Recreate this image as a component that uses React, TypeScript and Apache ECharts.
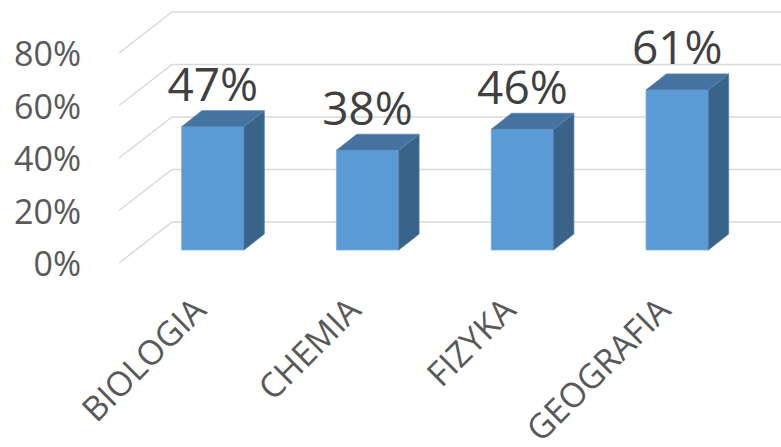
import React, { useEffect, useRef } from "react";
import * as echarts from "echarts";

const categories = ["BIOLOGIA", "CHEMIA", "FIZYKA", "GEOGRAFIA"];
const values = [47, 38, 46, 61];
const yTicks = [0, 20, 40, 60, 80];

const FONT = "Open Sans";

export default function App() {
  const ref = useRef<HTMLDivElement>(null);
  useEffect(() => {
    if (!ref.current) return;
    const chart = echarts.init(ref.current, null, { renderer: "svg" });
    const depthX = 20.3;
    const depthY = -16;
    const option: any = {
      animation: false,
      backgroundColor: "#ffffff",
      grid: { left: 135.4, right: 26.4, top: 40, bottom: 197 },
      xAxis: {
        type: "category",
        data: categories,
        axisLine: { show: false },
        axisTick: { show: false },
        splitLine: { show: false },
        axisLabel: { show: false },
      },
      yAxis: {
        type: "value",
        min: 0,
        max: 80,
        interval: 20,
        axisLine: { show: false },
        axisTick: { show: false },
        splitLine: { show: false },
        axisLabel: { show: false },
      },
      series: [
        {
          type: "custom",
          clip: false,
          z: 1,
          data: yTicks.map((v) => [0, v]),
          renderItem: (params: any, api: any) => {
            const v = api.value(1);
            const p = api.coord([0, v]);
            const backY = p[1] - 28;
            const frontY = p[1] + 13;
            const backX = p[0] - 40.8;
            const frontX = p[0] - 93.8;
            return {
              type: "group",
              children: [
                {
                  type: "polyline",
                  shape: { points: [[frontX, frontY], [backX, backY], [781, backY]] },
                  style: { stroke: "#d9d9d9", lineWidth: 1.5, fill: "none" },
                },
                {
                  type: "text",
                  style: {
                    x: 81,
                    y: frontY,
                    text: v + "%",
                    align: "right",
                    verticalAlign: "middle",
                    fontSize: 34,
                    fontFamily: FONT,
                    fill: "#595959",
                  },
                },
              ],
            };
          },
        },
        {
          type: "custom",
          clip: false,
          z: 2,
          data: values.map((v, i) => [i, v]),
          renderItem: (params: any, api: any) => {
            const i = api.value(0);
            const v = api.value(1);
            const top = api.coord([i, v]);
            const base = api.coord([i, 0]);
            const bw = api.size([1, 0])[0] * 0.4025;
            const x0 = top[0] - bw / 2;
            const x1 = x0 + bw;
            const yt = top[1];
            const yb = base[1];
            return {
              type: "group",
              children: [
                {
                  type: "polygon",
                  shape: { points: [[x0, yb], [x1, yb], [x1, yt], [x0, yt]] },
                  style: { fill: "#5b9bd5", stroke: "#7aaee0", lineWidth: 0.8 },
                },
                {
                  type: "polygon",
                  shape: {
                    points: [
                      [x1, yb],
                      [x1 + depthX, yb + depthY],
                      [x1 + depthX, yt + depthY],
                      [x1, yt],
                    ],
                  },
                  style: { fill: "#3a6389", stroke: "#4f7aa3", lineWidth: 0.8 },
                },
                {
                  type: "polygon",
                  shape: {
                    points: [
                      [x0, yt],
                      [x0 + depthX, yt + depthY],
                      [x1 + depthX, yt + depthY],
                      [x1, yt],
                    ],
                  },
                  style: { fill: "#4573a0", stroke: "#5a88b5", lineWidth: 0.8 },
                },
                {
                  type: "text",
                  style: {
                    x: top[0],
                    y: yt - 43.5,
                    text: v + "%",
                    align: "center",
                    verticalAlign: "middle",
                    fontSize: 46,
                    fontFamily: FONT,
                    fill: "#404040",
                  },
                },
                {
                  type: "text",
                  x: top[0] - 14,
                  y: yb + 53,
                  rotation: Math.PI / 4,
                  style: {
                    x: 0,
                    y: 0,
                    text: categories[i],
                    align: "right",
                    verticalAlign: "middle",
                    fontSize: 34,
                    fontFamily: FONT,
                    fill: "#595959",
                  },
                },
              ],
            };
          },
        },
      ],
    };
    chart.setOption(option);
    return () => chart.dispose();
  }, []);
  return (
    <div
      ref={ref}
      style={{ position: "absolute", left: 0, top: 0, width: 781, height: 447 }}
    />
  );
}
